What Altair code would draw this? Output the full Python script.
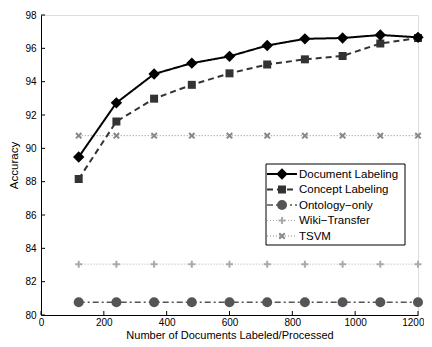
import altair as alt
import pandas as pd

# ---- data ----
x_vals = [120, 240, 360, 480, 600, 720, 840, 960, 1080, 1200]
doc_labeling = [89.48, 92.73, 94.46, 95.11, 95.52, 96.17, 96.57, 96.62, 96.80, 96.66]
concept_labeling = [88.16, 91.61, 92.98, 93.81, 94.50, 95.03, 95.34, 95.54, 96.29, 96.62]
ontology_only = [80.76, 80.76, 80.76, 80.76, 80.76, 80.76, 80.76, 80.76, 80.76, 80.76]
wiki_transfer = [83.05, 83.05, 83.05, 83.05, 83.05, 83.05, 83.05, 83.05, 83.05, 83.05]
tsvm = [90.76, 90.76, 90.76, 90.76, 90.76, 90.76, 90.76, 90.76, 90.76, 90.76]

series_names = ["Document Labeling", "Concept Labeling", "Ontology\u2212only", "Wiki\u2212Transfer", "TSVM"]
series_values = [doc_labeling, concept_labeling, ontology_only, wiki_transfer, tsvm]

x_ticks = [0, 200, 400, 600, 800, 1000, 1200]
y_ticks = [80, 82, 84, 86, 88, 90, 92, 94, 96, 98]

rows = []
for name, vals in zip(series_names, series_values):
    for xv, yv in zip(x_vals, vals):
        rows.append({"series": name, "x": xv, "y": yv})
df = pd.DataFrame(rows)

# ---- styles ----
styles = {
    "Document Labeling": dict(color="#000000", sw=2, dash=[1, 0], shape="diamond", filled=True, size=130, msw=1),
    "Concept Labeling": dict(color="#333333", sw=2, dash=[6, 4], shape="square", filled=True, size=64, msw=1),
    "Ontology\u2212only": dict(color="#555555", sw=1.5, dash=[6, 3, 2, 3], shape="circle", filled=True, size=100, msw=1),
    "Wiki\u2212Transfer": dict(color="#aaaaaa", sw=1, dash=[1, 2], shape="M-1,0L1,0M0,-1L0,1", filled=False, size=49, msw=2),
    "TSVM": dict(color="#888888", sw=1, dash=[1, 2], shape="M-1,-1L1,1M-1,1L1,-1", filled=False, size=30, msw=2),
}

W, H = 377, 300
FONT = "Liberation Sans"

xs = alt.Scale(domain=[0, 1200], nice=False, zero=False)
ys = alt.Scale(domain=[80, 98], nice=False, zero=False)

x_axis = alt.Axis(values=x_ticks, format="d", ticks=False, tickSize=0, grid=False, labelFontSize=10,
                  labelPadding=2, labelOverlap=False,
                  labelAlign={"condition": {"test": "datum.value == 1200", "value": "right"}, "value": "center"},
                  labelOffset={"condition": {"test": "datum.value == 1200", "value": 6}, "value": 0},
                  title="Number of Documents Labeled/Processed",
                  titleFontSize=11, titleFontWeight="normal", titleBaseline="alphabetic", titleY=23,
                  domainColor="black", labelColor="black", titleColor="black", labelFlush=False)
y_axis = alt.Axis(values=y_ticks, format="d", ticks=False, tickSize=0, grid=False, labelFontSize=10,
                  labelPadding=5, labelOverlap=False, title="Accuracy", titleFontSize=11.5,
                  titleFontWeight="normal", titlePadding=5, domainColor="black",
                  labelColor="black", titleColor="black", labelFlush=False)

X = lambda field: alt.X(field, scale=xs, axis=x_axis)
Y = lambda field: alt.Y(field, scale=ys, axis=y_axis)

layers = []

base_axes = alt.Chart(df).mark_point(opacity=0).encode(x=X("x:Q"), y=Y("y:Q"))
layers.append(base_axes)

# inward tick marks
xt = alt.Chart(pd.DataFrame({"t": x_ticks})).mark_rule(color="black", strokeWidth=1).encode(
    x=X("t:Q"), y=alt.value(H), y2=alt.value(H - 4))
yt = alt.Chart(pd.DataFrame({"t": y_ticks})).mark_rule(color="black", strokeWidth=1).encode(
    y=Y("t:Q"), x=alt.value(0), x2=alt.value(4))
layers += [xt, yt]

for name in reversed(series_names):
    s = styles[name]
    base = alt.Chart(df).transform_filter(alt.datum.series == name)
    line = base.mark_line(color=s["color"], strokeWidth=s["sw"], strokeDash=s["dash"]).encode(
        x=X("x:Q"), y=Y("y:Q"))
    pts = base.mark_point(shape=s["shape"], filled=s["filled"], size=s["size"], color=s["color"],
                          strokeWidth=s["msw"], opacity=1).encode(x=X("x:Q"), y=Y("y:Q"))
    layers += [line, pts]

# legend (manual)
LX0, LX1, LY0, LY1 = 225, 364, 149, 230
row_y0, row_step = 159, 15.5
legend_df = pd.DataFrame({"series": series_names})
box = alt.Chart(legend_df.head(1)).mark_rect(fill="white", stroke="black", strokeWidth=1).encode(
    x=alt.value(LX0), x2=alt.value(LX1), y=alt.value(LY0), y2=alt.value(LY1))
layers.append(box)
for i, name in enumerate(series_names):
    s = styles[name]
    ry = row_y0 + i * row_step
    one = alt.Chart(legend_df).transform_filter(alt.datum.series == name)
    layers.append(one.mark_rule(color=s["color"], strokeWidth=s["sw"], strokeDash=s["dash"]).encode(
        x=alt.value(LX0 + 1), x2=alt.value(LX0 + 31), y=alt.value(ry)))
    layers.append(one.mark_point(shape=s["shape"], filled=s["filled"], size=s["size"], color=s["color"],
                                 strokeWidth=s["msw"], opacity=1).encode(
        x=alt.value(LX0 + 16), y=alt.value(ry)))
    layers.append(one.mark_text(align="left", baseline="middle", fontSize=11.5, font=FONT, color="black").encode(
        x=alt.value(LX0 + 33), y=alt.value(ry + 0.5), text="series:N"))

chart = alt.layer(*layers).properties(
    width=W, height=H,
    autosize=alt.AutoSizeParams(type="none"),
    padding={"left": 33, "top": 7, "right": 6, "bottom": 24},
).configure_view(stroke=None).configure(font=FONT).configure_axis(labelFont=FONT, titleFont=FONT)

chart.save("out.html", embed_options={"renderer": "svg", "actions": False})
